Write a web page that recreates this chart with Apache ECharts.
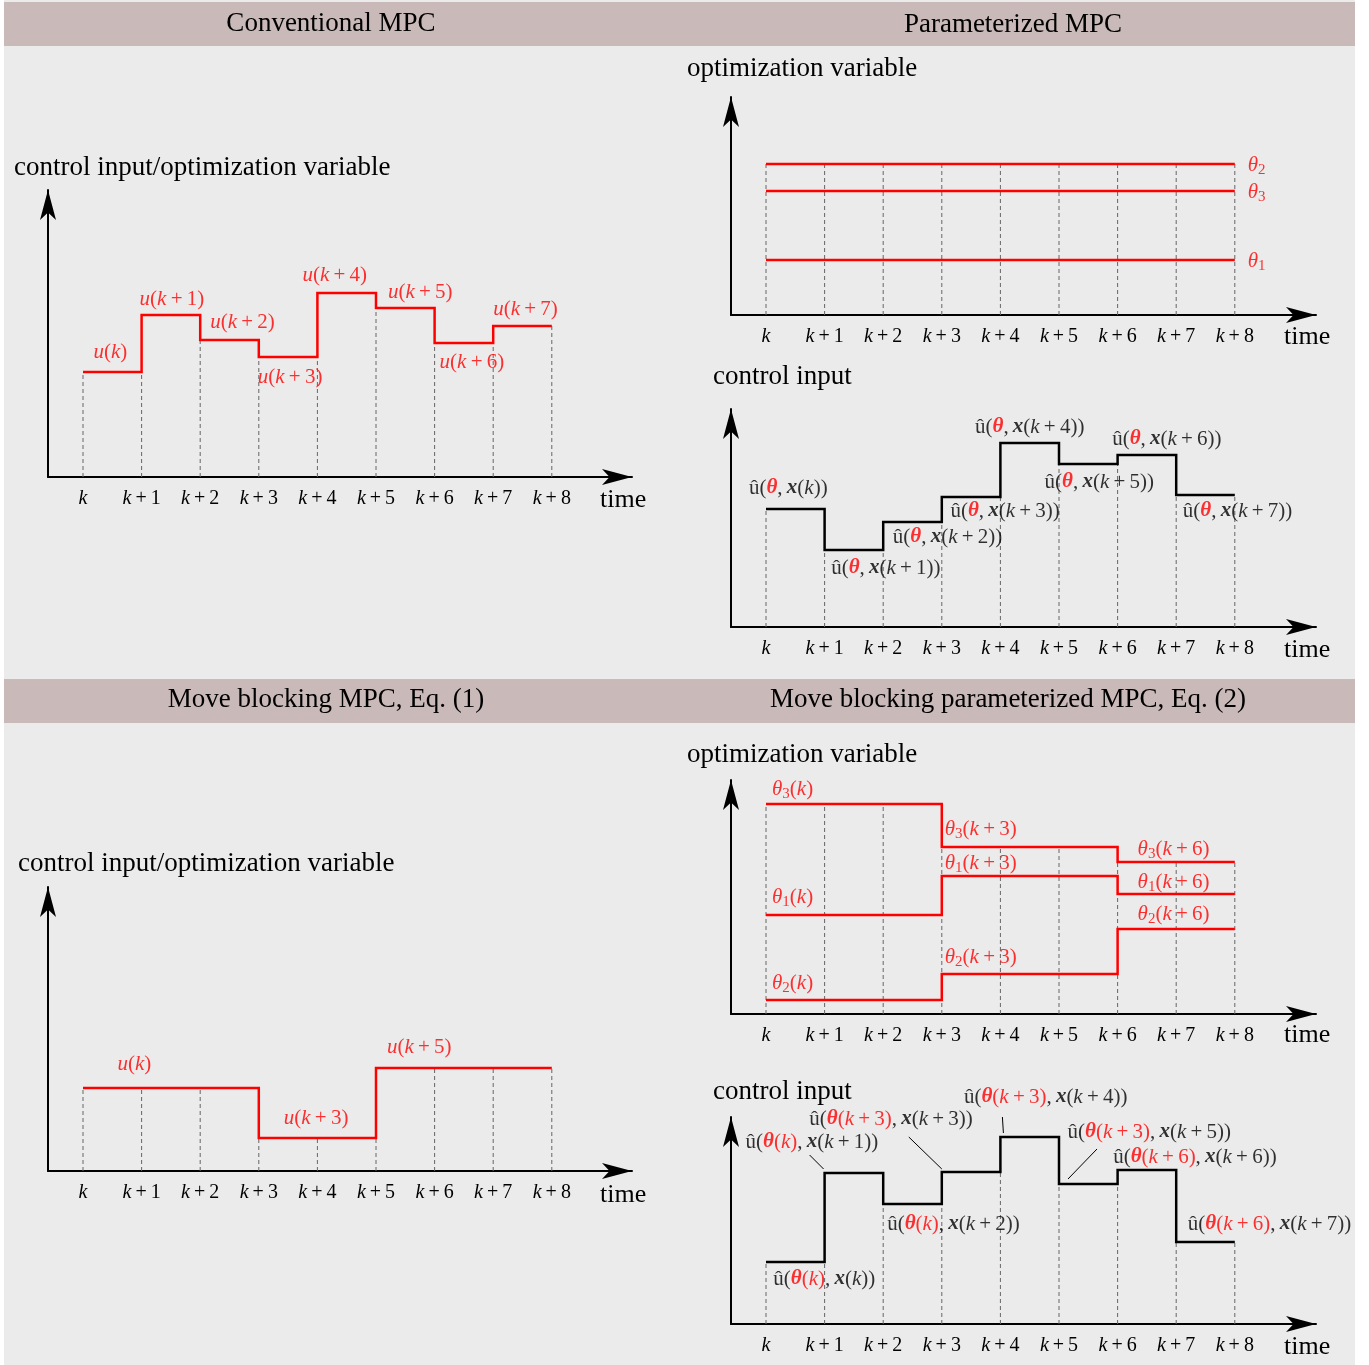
<!DOCTYPE html>
<html><head><meta charset="utf-8">
<script src="https://cdn.jsdelivr.net/npm/echarts@6/dist/echarts.min.js"></script>
<style>html,body{margin:0;padding:0;background:#fff}#c{width:1369px;height:1365px}</style>
</head><body><div id="c"></div>
<script>
// ---------------- DATA ----------------
const TICK_LABELS = ['k','k+1','k+2','k+3','k+4','k+5','k+6','k+7','k+8'];
// Conventional MPC: u(k) ... u(k+7)
const convU = [105, 162, 137, 120, 184, 169, 134, 151];
// Parameterized MPC: constant parameters theta_1..theta_3
const paramThetaIdx = [1, 2, 3];
const paramTheta = [55, 151, 124];
// Parameterized MPC control input u_hat(theta, x(k+i))
const paramU = [118, 77, 105, 130, 184, 163, 172, 132];
// Move blocking MPC: block starts and block values
const mbStarts = [0, 3, 5];
const mbU = [83, 33, 103];
// Move blocking parameterized MPC
const mbpStarts = [0, 3, 6];
const mbpTheta1 = [99, 138, 120];
const mbpTheta2 = [14, 40, 85];
const mbpTheta3 = [210, 167, 152];
const mbpU = [62, 151, 120, 152, 187, 140, 154, 82];
// leader lines: which corner (tick) they point at
const mbpLeaderTicks = [1, 3, 4, 5];

// ---------------- LAYOUT / STYLE ----------------
const FF = '"Liberation Serif","Times New Roman",serif';
const RED = '#ff0000';
const T = '\u2009';
const AH = 30, AW = 12;   // arrow length / width param
const SP = 58.6, K0 = 35; // px per step, px from y-axis to k
const LAYOUT = [
  {ax:48,  ay:477,  ytip:190,  xtip:632},
  {ax:731, ay:315,  ytip:97,   xtip:1316},
  {ax:731, ay:627,  ytip:409,  xtip:1316},
  {ax:48,  ay:1171, ytip:887,  xtip:632},
  {ax:731, ay:1014, ytip:780,  xtip:1316},
  {ax:731, ay:1324, ytip:1117, xtip:1316}
];
const LFS = 21;
function st(color, fs, italic, bold, extra) {
  return Object.assign({color, fontFamily: FF, fontSize: fs,
    fontStyle: italic ? 'italic' : 'normal', fontWeight: bold ? 'bold' : 'normal',
    verticalAlign: 'middle'}, extra || {});
}
const RICH = {
  b: st('#000', LFS), bi: st('#000', LFS, true), bbi: st('#000', LFS, true, true),
  r: st(RED, LFS), ri: st(RED, LFS, true), rbi: st(RED, LFS, true, true),
  rs: st(RED, 15, false, false, {padding: [10, 0, 0, 0]})
};
const TICK_RICH = { I: st('#000', 20, true), R: st('#000', 20) };
const kx = (n, c) => `{${c}i|k}` + (n ? `{${c}|${T}+${T}${n}}` : '');

// label offsets (px) — style only
const offA = [[-2,-20],[1,-16],[13,-18],[2,20],[-12,-18],[15,-16],[8,19],[3,-17]];
const offC = [[-7,-21],[32,18],[35,15],[34,14],[0,-16],[11,18],[20,-16],[32,16]];
const offD = [[22,-24],[28,-20],[14,-21]];
const offE = { 3: [[6,-15],[3,-18],[20,-13]], 1: [[6,-18],[3,-13],[20,-12]], 2: [[6,-17],[3,-17],[20,-15]] };
const offF = [[29,17],[-42,-31],[41,20],[-80,-53],[16,-40],[61,-52],[48,-13],[64,-18]];
const leaderOff = [[-1,-4,-15,-18],[0,-3,-33,-35],[3,-4,2,-20],[9,-5,38,-35]];

// ---------------- HELPERS ----------------
const expand = (starts, vals, n) => { const out = []; for (let i = 0; i < n; i++) { let j = 0; while (j + 1 < starts.length && starts[j + 1] <= i) j++; out.push(vals[j]); } return out; };
const stepData = arr => arr.map((v, i) => [i, v]).concat([[arr.length, arr[arr.length - 1]]]);
const dashHeights = list => TICK_LABELS.map((_, i) => [i, Math.max(...list.map(s => i === 0 ? s[0] : i === s.length ? s[s.length - 1] : Math.min(s[i - 1], s[i])))]);

const grids = [], xAxes = [], yAxes = [], series = [];
LAYOUT.forEach((L, idx) => {
  const top = L.ytip, right = L.xtip;
  grids.push({left: L.ax, top: top, width: right - L.ax, height: L.ay - top, outerBoundsMode: 'none'});
  const axLine = {show: true, onZero: false, symbol: ['none', 'arrow'], symbolSize: [AW, AH], lineStyle: {color: '#000', width: 2}};
  xAxes.push({type: 'value', gridIndex: idx, min: -K0 / SP, max: (right - L.ax - K0) / SP,
    axisLine: axLine, axisTick: {show: false}, splitLine: {show: false},
    axisLabel: {show: true, customValues: TICK_LABELS.map((_, i) => i), margin: 12, rich: TICK_RICH,
      formatter: v => { const s = TICK_LABELS[Math.round(v)] || ''; const m = s.match(/^k(?:\+(\d+))?$/); if (!m) return ''; return '{I|k}' + (m[1] ? `{R|${T}+${T}${m[1]}}` : ''); }}});
  yAxes.push({type: 'value', gridIndex: idx, min: 0, max: L.ay - top,
    axisLine: axLine, axisTick: {show: false}, splitLine: {show: false}, axisLabel: {show: false}});
});

function dashSeries(idx, list) {
  series.push({type: 'custom', xAxisIndex: idx, yAxisIndex: idx, silent: true, z: 1, clip: false,
    data: dashHeights(list),
    renderItem: (p, api) => { const a = api.coord([api.value(0), 0]); const b = api.coord([api.value(0), api.value(1)]);
      return {type: 'line', shape: {x1: a[0], y1: a[1], x2: b[0], y2: b[1]}, style: {stroke: '#666', lineWidth: 1, lineDash: [4, 3]}}; }});
}
function stepSeries(idx, data, color) {
  series.push({type: 'line', xAxisIndex: idx, yAxisIndex: idx, step: 'end', data: data, symbol: 'none', silent: true, z: 3,
    lineStyle: {color: color, width: 2.5, join: 'miter'}});
}
function labelSeries(idx, items, texts, pos) {
  series.push({type: 'scatter', xAxisIndex: idx, yAxisIndex: idx, symbolSize: 0, silent: true, z: 4,
    itemStyle: {color: 'transparent'},
    data: items,
    label: {show: true, position: pos || 'inside', distance: 0, color: '#000', rich: RICH, formatter: p => texts[p.dataIndex]}});
}

// Chart A: conventional MPC
dashSeries(0, [convU]);
stepSeries(0, stepData(convU), RED);
labelSeries(0, convU.map((v, i) => ({value: [i + 0.5, v], label: {offset: offA[i]}})),
  convU.map((v, i) => `{ri|u}{r|(}${kx(i, 'r')}{r|)}`));

// Chart B: constant thetas
dashSeries(1, paramTheta.map(v => TICK_LABELS.slice(1).map(() => v)));
paramTheta.forEach(v => stepSeries(1, [[0, v], [TICK_LABELS.length - 1, v]], RED));
labelSeries(1, paramTheta.map(v => ({value: [TICK_LABELS.length - 1, v], label: {offset: [13, 1]}})),
  paramThetaIdx.map(j => `{ri|θ}{rs|${j}}`), 'right');

// Chart C: parameterized control input
dashSeries(2, [paramU]);
stepSeries(2, stepData(paramU), '#000');
labelSeries(2, paramU.map((v, i) => ({value: [i + 0.5, v], label: {offset: offC[i]}})),
  paramU.map((v, i) => `{b|û(}{rbi|θ}{b|,${T}}{bbi|x}{b|(}${kx(i, 'b')}{b|))}`));

// Chart D: move blocking MPC
const mbFull = expand(mbStarts, mbU, 8);
dashSeries(3, [mbFull]);
stepSeries(3, stepData(mbFull), RED);
labelSeries(3, mbU.map((v, j) => ({value: [mbStarts[j] + 0.5, v], label: {offset: offD[j]}})),
  mbStarts.map(s => `{ri|u}{r|(}${kx(s, 'r')}{r|)}`));

// Chart E: move blocking parameterized thetas
const thetaSets = [[3, mbpTheta3], [1, mbpTheta1], [2, mbpTheta2]];
const thetaFull = thetaSets.map(([j, a]) => expand(mbpStarts, a, 8));
dashSeries(4, thetaFull);
thetaFull.forEach(a => stepSeries(4, stepData(a), RED));
const eItems = [], eTexts = [];
thetaSets.forEach(([j, a]) => a.forEach((v, b) => {
  eItems.push({value: [mbpStarts[b], v], label: {offset: offE[j][b]}});
  eTexts.push(`{ri|θ}{rs|${j}}{r|(}${kx(mbpStarts[b], 'r')}{r|)}`);
}));
labelSeries(4, eItems, eTexts, 'right');

// Chart F: move blocking parameterized control input
dashSeries(5, [mbpU]);
stepSeries(5, stepData(mbpU), '#000');
const blockOf = i => { let s = 0; mbpStarts.forEach(b => { if (b <= i) s = b; }); return s; };
labelSeries(5, mbpU.map((v, i) => ({value: [i + 0.5, v], label: {offset: offF[i]}})),
  mbpU.map((v, i) => `{b|û(}{rbi|θ}{r|(}${kx(blockOf(i), 'r')}{r|)}{b|,${T}}{bbi|x}{b|(}${kx(i, 'b')}{b|))}`));
series.push({type: 'custom', xAxisIndex: 5, yAxisIndex: 5, silent: true, z: 3, clip: false,
  data: mbpLeaderTicks.map(t => [t, mbpU[t]]),
  renderItem: (p, api) => { const c = api.coord([api.value(0), api.value(1)]); const o = leaderOff[p.dataIndex];
    return {type: 'line', shape: {x1: c[0] + o[0], y1: c[1] + o[1], x2: c[0] + o[2], y2: c[1] + o[3]}, style: {stroke: '#000', lineWidth: 1}}; }});

// ---------------- GRAPHIC (background, headers, axis names) ----------------
const HEADER = '#c9b9b8';
const txt = (text, x, y, fs, align) => ({type: 'text', x: x, y: y, z: 10, silent: true,
  style: {text: text, fill: '#000', fontSize: fs, fontFamily: FF, align: align || 'left', verticalAlign: 'middle'}});
const graphic = [
  {type: 'rect', shape: {x: 4, y: 0, width: 1351, height: 1365}, style: {fill: '#ebebeb'}, z: -100, silent: true},
  {type: 'rect', shape: {x: 4, y: 2, width: 1351, height: 44}, style: {fill: HEADER}, z: -90, silent: true},
  {type: 'rect', shape: {x: 4, y: 679, width: 1351, height: 44}, style: {fill: HEADER}, z: -90, silent: true},
  txt('Conventional MPC', 331, 24, 27, 'center'),
  txt('Parameterized MPC', 1013, 25, 27, 'center'),
  txt('Move blocking MPC, Eq. (1)', 326, 700, 27, 'center'),
  txt('Move blocking parameterized MPC, Eq. (2)', 1008, 700, 27, 'center'),
  txt('control input/optimization variable', 14, 168, 27),
  txt('optimization variable', 687, 69, 27),
  txt('control input', 713, 377, 27),
  txt('control input/optimization variable', 18, 864, 27),
  txt('optimization variable', 687, 755, 27),
  txt('control input', 713, 1092, 27),
  txt('time', 600, 500, 26), txt('time', 1284, 337, 26), txt('time', 1284, 650, 26),
  txt('time', 600, 1195, 26), txt('time', 1284, 1035, 26), txt('time', 1284, 1347, 26)
];

const chart = echarts.init(document.getElementById('c'), null, {renderer: 'canvas'});
chart.setOption({
  backgroundColor: '#ffffff',
  animation: false,
  textStyle: {fontFamily: FF},
  grid: grids, xAxis: xAxes, yAxis: yAxes, series: series, graphic: graphic
});
</script></body></html>
